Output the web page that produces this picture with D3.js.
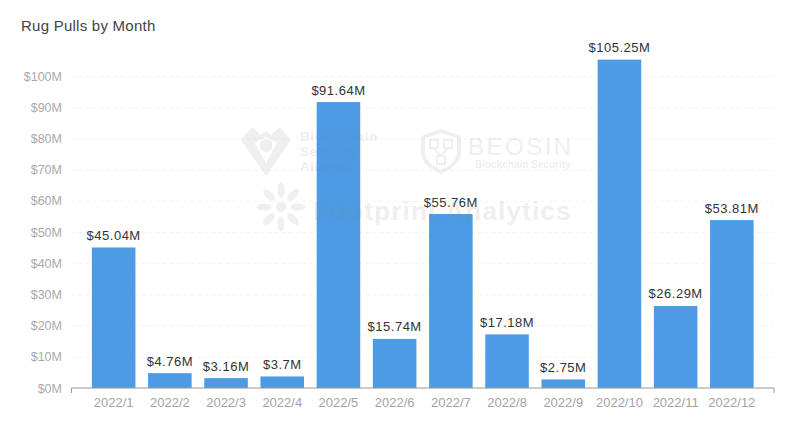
<!DOCTYPE html>
<html>
<head>
<meta charset="utf-8">
<script src="https://cdn.jsdelivr.net/npm/d3@7"></script>
<style>
  html, body { margin: 0; padding: 0; background: #fff; }
  text { font-family: "Liberation Sans", Arial, sans-serif; }
</style>
</head>
<body>
<div id="chart"></div>
<script>
var months = ["2022/1", "2022/2", "2022/3", "2022/4", "2022/5", "2022/6", "2022/7", "2022/8", "2022/9", "2022/10", "2022/11", "2022/12"];
var values = [45.04, 4.76, 3.16, 3.7, 91.64, 15.74, 55.76, 17.18, 2.75, 105.25, 26.29, 53.81];
var yTicks = [0, 10, 20, 30, 40, 50, 60, 70, 80, 90, 100];

var svgWidth = 800;
var svgHeight = 432;
var margin = { top: 76, right: 26, bottom: 44, left: 71.5 };

var svg = d3.select("#chart")
  .append("svg")
  .attr("width", svgWidth)
  .attr("height", svgHeight)
  .style("display", "block");

var x = d3.scaleBand()
  .domain(months)
  .range([margin.left, svgWidth - margin.right])
  .paddingInner(0.225)
  .paddingOuter(0.3625);

var y = d3.scaleLinear()
  .domain([0, 100])
  .range([svgHeight - margin.bottom, margin.top]);

svg.append("text")
  .attr("x", 21)
  .attr("y", 31)
  .attr("font-size", 15)
  .attr("letter-spacing", 0.25)
  .attr("fill", "#444")
  .text("Rug Pulls by Month");

// gridlines and y labels
var yAxis = d3.axisLeft(y)
  .tickValues(yTicks)
  .tickFormat(d => "$" + d + "M")
  .tickSize(-(svgWidth - margin.left - margin.right))
  .tickPadding(9.5);

var yG = svg.append("g")
  .attr("transform", `translate(${margin.left}, 0)`)
  .call(yAxis);
yG.select(".domain").remove();
yG.selectAll(".tick line")
  .attr("stroke", "#f3f3f3")
  .attr("stroke-dasharray", "4,3");
yG.selectAll(".tick text")
  .attr("font-size", 12.5)
  .attr("fill", "#a9a9ad");

// bars
svg.selectAll(".bar")
  .data(values)
  .enter()
  .append("rect")
  .attr("class", "bar")
  .attr("x", (d, i) => x(months[i]))
  .attr("y", d => y(d))
  .attr("width", x.bandwidth())
  .attr("height", d => y(0) - y(d))
  .attr("fill", "#4c9be4");

// value labels
svg.selectAll(".label")
  .data(values)
  .enter()
  .append("text")
  .attr("class", "label")
  .attr("x", (d, i) => x(months[i]) + x.bandwidth() / 2)
  .attr("y", d => y(d) - 7.5)
  .attr("text-anchor", "middle")
  .attr("font-size", 13)
  .attr("letter-spacing", 0.5)
  .attr("fill", "#333")
  .text(d => "$" + d + "M");

// x axis
var xAxis = d3.axisBottom(x).tickSize(0).tickPadding(9.5);
var xG = svg.append("g")
  .attr("transform", `translate(0, ${y(0)})`)
  .call(xAxis);
xG.select(".domain")
  .attr("stroke", "#999")
  .attr("d", `M${margin.left},5V0H${svgWidth - margin.right}V5`);
xG.selectAll(".tick text")
  .attr("font-size", 13)
  .attr("fill", "#a3a3a7");

// watermarks, drawn over the bars very faintly
var wm = svg.append("g").attr("fill", "#888").attr("opacity", 0.13);

wm.append("path")
  .attr("d", "M241,140 L252,127 L261,135 L266,131 L271,135 L280,127 L291,140 L266,176 Z M255,143 L266,163 L277,143 L266,137 Z")
  .attr("fill-rule", "evenodd");
wm.append("path").attr("d", "M260,142 L266,139 L272,142 L272,149 L266,153 L260,149 Z");
wm.append("text").attr("x", 300).attr("y", 141).attr("font-size", 13.5).attr("font-weight", "bold").attr("letter-spacing", 0.6).text("Blockchain");
wm.append("text").attr("x", 300).attr("y", 156).attr("font-size", 13.5).attr("font-weight", "bold").attr("letter-spacing", 0.6).text("Security");
wm.append("text").attr("x", 300).attr("y", 171).attr("font-size", 13.5).attr("font-weight", "bold").attr("letter-spacing", 0.6).text("Alliance");

wm.append("path")
  .attr("d", "M421,136 L441,129 L461,136 L461,154 Q459,166 441,174 Q423,166 421,154 Z M425,138 L425,154 Q427,164 441,170 Q455,164 457,154 L457,138 L441,133 Z")
  .attr("fill-rule", "evenodd");
wm.append("path")
  .attr("d", "M430,140 h8 v8 h-8 Z M444,140 h8 v8 h-8 Z M437,156 h8 v8 h-8 Z M434,148 L441,156 L448,148")
  .attr("fill", "none")
  .attr("stroke", "#888")
  .attr("stroke-width", 2);
wm.append("text").attr("x", 468).attr("y", 155).attr("font-size", 24).attr("letter-spacing", 2.5).text("BEOSIN");
wm.append("text").attr("x", 475).attr("y", 168).attr("font-size", 10).attr("font-weight", "bold").text("Blockchain Security");

// Footprint sun: petals around a centre
d3.range(8).forEach(function(i) {
  wm.append("ellipse")
    .attr("cx", 0).attr("cy", -17)
    .attr("rx", 3.5).attr("ry", 7.5)
    .attr("transform", `translate(281, 207) rotate(${i * 45})`);
});
wm.append("circle").attr("cx", 281).attr("cy", 207).attr("r", 5);
wm.append("text").attr("x", 313).attr("y", 220).attr("font-size", 26).attr("font-weight", "bold").attr("letter-spacing", 1.2).text("Footprint Analytics");
</script>
</body>
</html>
